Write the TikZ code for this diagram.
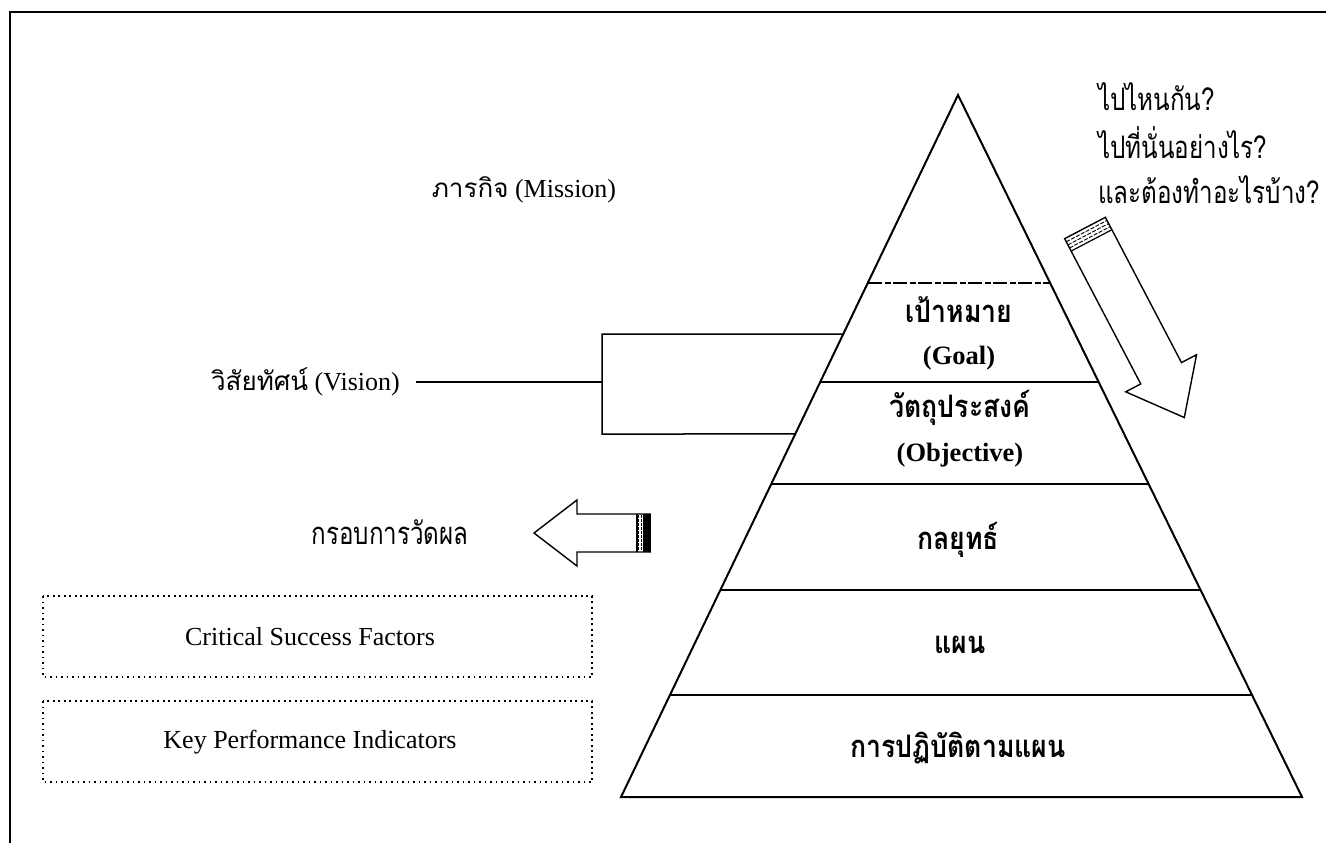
\documentclass[tikz,border=0pt]{standalone}
\usepackage{fontspec}
\setmainfont{Liberation Serif}
\newfontfamily\thai[Script=Thai]{Loma}
\newfontfamily\thaitall[Script=Thai, FakeStretch=0.86]{Loma}
\newfontfamily\thaicond[Script=Thai, FakeStretch=0.78]{Loma}
\usetikzlibrary{calc}

\begin{document}
\begin{tikzpicture}[x=1pt,y=-1pt,
  frame/.style={line width=1.6pt},
  pyr/.style={line width=2pt},
  thinrule/.style={line width=1.2pt, dash pattern=on 14pt off 3pt on 6pt off 2pt},
  lbl/.style={inner sep=0pt, font=\fontsize{26}{31}\selectfont},
  tier/.style={inner sep=0pt, font=\thaitall\bfseries\fontsize{31}{36}\selectfont},
  tierlat/.style={inner sep=0pt, font=\bfseries\fontsize{26.5}{31}\selectfont},
  question/.style={inner sep=0pt, anchor=west, font=\thaicond\fontsize{31}{36}\selectfont},
  dotbox/.style={line width=2.2pt, dash pattern=on 1.6pt off 3.9pt},
  blockarrow/.style={line width=1.4pt, fill=white, line join=miter}]
\useasboundingbox (0,0) rectangle (1326,843);
\fill[white] (0,0) rectangle (1326,843);

% outer frame (left and top edges)
\coordinate (f1) at (10,843);
\coordinate (f2) at (10,12);
\coordinate (f3) at (1326,12);
\draw[frame] (f1) -- (f2) -- (f3);

% pyramid outline and tier rules
\coordinate (apex) at (958,95);
\coordinate (bl) at (621,797);
\coordinate (br) at (1302,797);
\draw[pyr, line join=miter] (bl) -- (apex) -- (br) -- cycle;
\draw[thinrule] ($(apex)!0.2678!(bl)$) -- ($(apex)!0.2678!(br)$);
\foreach \t in {0.4088,0.5541,0.7051,0.8547}
  \draw[pyr] ($(apex)!\t!(bl)$) -- ($(apex)!\t!(br)$);

% tier labels
\node[tier]    (goal)    at (959,310) {เป้าหมาย};
\node[tierlat] (goalen)  at (959,358) {(Goal)};
\node[tier]    (obj)     at (960,408) {วัตถุประสงค์};
\node[tierlat] (objen)   at (960,455) {(Objective)};
\node[tier]    (strat)   at (958,540) {กลยุทธ์};
\node[tier]    (plan)    at (960,645) {แผน};
\node[tier]    (act)     at (958,748) {การปฏิบัติตามแผน};

% mission and vision labels
\node[lbl] (mission) at (524,190) {{\thai ภารกิจ} (Mission)};
\node[lbl, anchor=east] (vision) at (400,382) {{\thai วิสัยทัศน์} (Vision)};

% bracket joining vision to goal and objective tiers
\coordinate (bk)  at (602,382);
\coordinate (bkt) at (602,334);
\coordinate (bkb) at (602,434);
\draw[line width=1.5pt] (vision.east) ++(16,0) -- (bk);
\draw[line width=1.5pt] ($(apex)!0.3405!(bl)$) -- (bkt) -- (bkb) -- ($(apex)!0.4829!(bl)$);

% questions at the top right
\node[question] (q1) at (1098,97)  {ไปไหนกัน?};
\node[question] (q2) at (1098,143) {ไปที่นั่นอย่างไร?};
\node[question] (q3) at (1098,190) {และต้องทำอะไรบ้าง?};

% downward block arrow beside the pyramid
\begin{scope}[shift={(1085,228)}, rotate=-62.35]
  \draw[blockarrow] (0,23) -- (164,23) -- (164,40) -- (214,0) -- (164,-40) -- (164,-23) -- (0,-23) -- cycle;
  \foreach \u in {3.5,7,10.5}
    \draw[line width=0.9pt, dash pattern=on 4pt off 1.5pt] (\u,23) -- (\u,-23);
  \draw[line width=1.2pt] (14,23) -- (14,-23);
\end{scope}

% measurement frame label and left block arrow
\node[inner sep=0pt, font=\thaicond\fontsize{31}{36}\selectfont] (frame) at (390,532) {กรอบการวัดผล};
\draw[blockarrow] (651,514) -- (577,514) -- (577,500) -- (534,533) -- (577,566) -- (577,552) -- (651,552);
\foreach \x in {638.5,641}
  \draw[line width=0.8pt, dash pattern=on 2.5pt off 1.5pt] (\x,515) -- (\x,551);
\fill (643,514) rectangle (651,552);
\draw[line width=1.4pt] (637,514) -- (637,552);

% measurement boxes
\draw[dotbox] (43,596) rectangle (592,677);
\node[lbl] (csf) at (310,637) {Critical Success Factors};
\draw[dotbox] (43,701) rectangle (592,782);
\node[lbl] (kpi) at (310,742) {Key Performance Indicators};
\end{tikzpicture}
\end{document}
